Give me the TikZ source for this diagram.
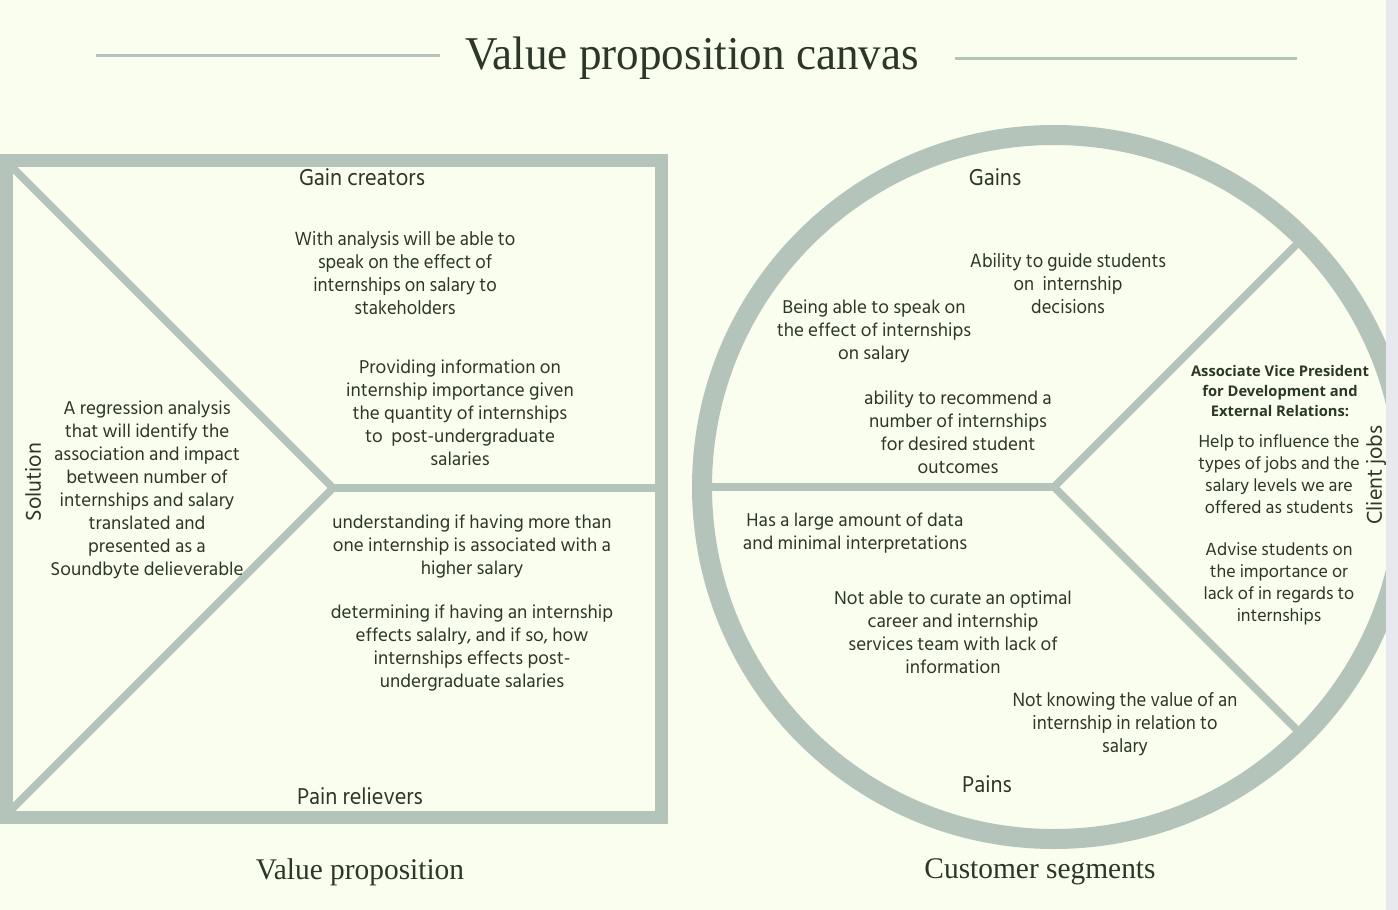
\documentclass[tikz,border=0pt]{standalone}
\usepackage{fontspec}
\setmainfont{Liberation Serif}
\newfontfamily\hindfont{Hind Siliguri}
\newfontfamily\condfont[FakeStretch=0.95]{Hind Siliguri}
\newfontfamily\boldfont{Open Sans}
\newfontfamily\headfont[FakeStretch=0.96]{Liberation Serif}
\newfontfamily\subheadfont[FakeStretch=0.98]{Liberation Serif}
\definecolor{canvasbg}{HTML}{F9FEEF}
\definecolor{canvasline}{HTML}{B5C4BB}
\definecolor{canvasink}{HTML}{2C3629}
\definecolor{canvasedge}{HTML}{E8E9EE}

\begin{document}
\begin{tikzpicture}[
  x=1pt,
  y=-1pt,
  every node/.style={canvasink, inner sep=0pt},
  frame/.style={canvasline, line width=13pt},
  ring/.style={canvasline, line width=20pt},
  split/.style={canvasline, line width=7.5pt},
  rule/.style={canvasline, line width=3pt},
  heading/.style={font=\headfont\fontsize{47}{50}\selectfont},
  subheading/.style={font=\subheadfont\fontsize{30}{34}\selectfont},
  label/.style={font=\condfont\fontsize{23.5}{26}\selectfont},
  sidelabel/.style={font=\hindfont\fontsize{22}{24}\selectfont, rotate=90},
  body/.style={align=center, font=\hindfont\fontsize{19}{23}\selectfont},
  narrow/.style={align=center, font=\condfont\fontsize{19.6}{23}\selectfont},
  small/.style={align=center, font=\hindfont\fontsize{18}{22}\selectfont},
  role/.style={align=center, font=\boldfont\bfseries\fontsize{14.7}{20}\selectfont}
]
  % ---- page ------------------------------------------------------------
  \fill[canvasbg] (0,0) rectangle (1398,910);
  \useasboundingbox (0,0) rectangle (1398,910);

  % ---- title -----------------------------------------------------------
  \node[heading] (title) at (692,58) {Value proposition canvas};
  \draw[rule] (96,55) -- (440,55);
  \draw[rule] (955,58) -- (1297,58);

  % ---- value proposition square ----------------------------------------
  \coordinate (vphub) at (333,488);
  \draw[frame] (6,160) rectangle (661,817);
  \draw[split] (12,167) -- (vphub) -- (12,809);
  \draw[split] (vphub) -- (655,488);

  % ---- customer segment circle -----------------------------------------
  \coordinate (cshub) at (1054,487);
  \draw[ring] (cshub) circle[radius=352];
  \draw[split] (712,487) -- (cshub);
  \draw[split] (cshub) -- ++(45:342);
  \draw[split] (cshub) -- ++(-45:342);

  % ---- right edge ------------------------------------------------------
  \fill[canvasedge] (1386,0) rectangle (1398,910);

  % ---- square labels ---------------------------------------------------
  \node[label] (gaincreators) at (362,177) {Gain creators};
  \node[label] (painrelievers) at (360,796) {Pain relievers};
  \node[sidelabel] (solution) at (33,482) {Solution};

  \node[narrow] (gc1) at (405,273)
    {With analysis will be able to\\speak on the effect of\\internships on salary to\\stakeholders};
  \node[body] (gc2) at (460,413)
    {Providing information on\\internship importance given\\the quantity of internships\\to\ \ post-undergraduate\\salaries};
  \node[body] (sol) at (147,490)
    {A regression analysis\\that will identify the\\association and impact\\between number of\\internships and salary\\translated and\\presented as a\\Soundbyte delieverable};
  \node[body] (pr1) at (472,546)
    {understanding if having more than\\one internship is associated with a\\higher salary};
  \node[body] (pr2) at (472,648)
    {determining if having an internship\\effects salalry, and if so, how\\internships effects post-\\undergraduate salaries};

  % ---- circle labels ---------------------------------------------------
  \node[label] (gains) at (995,177) {Gains};
  \node[label] (pains) at (987,784) {Pains};
  \node[sidelabel] (clientjobs) at (1376,475) {Client jobs};

  \node[narrow] (g1) at (1068,284)
    {Ability to guide students\\on\ \ internship\\decisions};
  \node[body] (g2) at (874,331)
    {Being able to speak on\\the effect of internships\\on salary};
  \node[body] (g3) at (958,432)
    {ability to recommend a\\number of internships\\for desired student\\outcomes};
  \node[body] (p1) at (855,533)
    {Has a large amount of data\\and minimal interpretations};
  \node[body] (p2) at (953,632)
    {Not able to curate an optimal\\career and internship\\services team with lack of\\information};
  \node[narrow] (p3) at (1125,724)
    {Not knowing the value of an\\internship in relation to\\salary};

  \node[role] (avp) at (1280,391)
    {Associate Vice President\\for Development and\\External Relations:};
  \node[small] (j1) at (1279,474)
    {Help to influence the\\types of jobs and the\\salary levels we are\\offered as students};
  \node[small] (j2) at (1279,584)
    {Advise students on\\the importance or\\lack of in regards to\\internships};

  % ---- captions --------------------------------------------------------
  \node[subheading] (vpcaption) at (360,872) {Value proposition};
  \node[subheading] (cscaption) at (1040,872) {Customer segments};
\end{tikzpicture}
\end{document}
